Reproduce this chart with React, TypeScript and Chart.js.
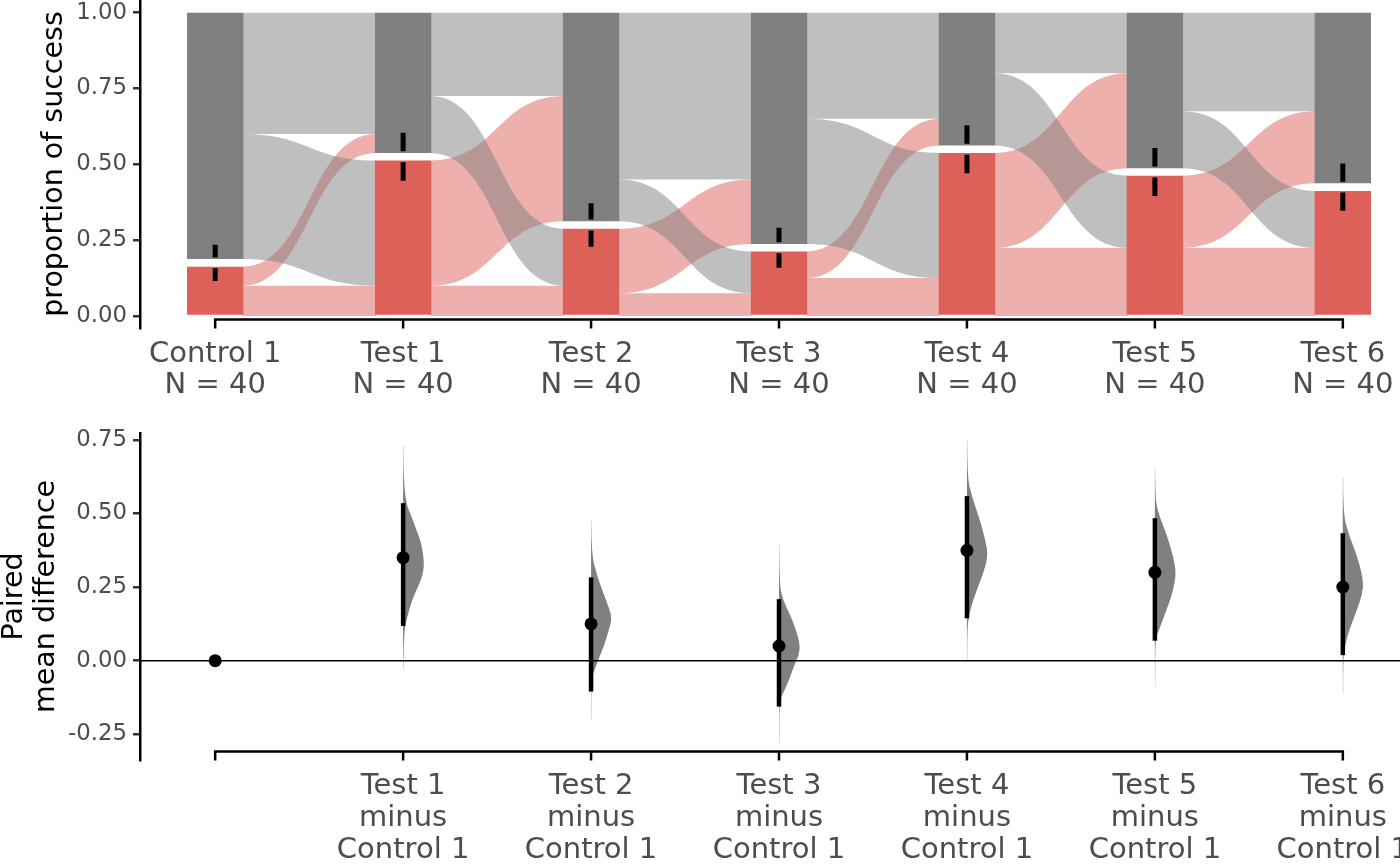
import React, { useEffect, useRef } from 'react';
import { Chart, registerables } from 'chart.js';

Chart.register(...registerables);

// ---------- data: top panel (proportions) ----------
const groups = ['Control 1', 'Test 1', 'Test 2', 'Test 3', 'Test 4', 'Test 5', 'Test 6'];
const groupN = [40, 40, 40, 40, 40, 40, 40];
const propSuccess = [0.175, 0.525, 0.3, 0.225, 0.55, 0.475, 0.425];
const errLow = [0.115, 0.446, 0.228, 0.159, 0.471, 0.396, 0.347];
const errHigh = [0.235, 0.604, 0.372, 0.291, 0.629, 0.554, 0.503];
// flows between consecutive groups (fraction of all subjects)
const flowSuccessToSuccess = [0.1, 0.1, 0.075, 0.125, 0.225, 0.225];
const flowSuccessToFailure = [0.075, 0.425, 0.225, 0.1, 0.325, 0.25];
const flowFailureToSuccess = [0.425, 0.2, 0.15, 0.425, 0.25, 0.2];
const flowFailureToFailure = [0.4, 0.275, 0.55, 0.35, 0.2, 0.325];
const topYTicks = [0, 0.25, 0.5, 0.75, 1];

// ---------- data: bottom panel (paired mean differences) ----------
const diffLabels = [
  [''],
  ['Test 1', 'minus', 'Control 1'],
  ['Test 2', 'minus', 'Control 1'],
  ['Test 3', 'minus', 'Control 1'],
  ['Test 4', 'minus', 'Control 1'],
  ['Test 5', 'minus', 'Control 1'],
  ['Test 6', 'minus', 'Control 1'],
];
const meanDiff = [0, 0.35, 0.125, 0.05, 0.375, 0.3, 0.25];
const ciLow = [null, 0.118, -0.105, -0.156, 0.144, 0.068, 0.019];
const ciHigh = [null, 0.535, 0.283, 0.209, 0.559, 0.484, 0.433];
const bottomYTicks = [-0.25, 0, 0.25, 0.5, 0.75];

// bootstrap density outlines (value, relative density)
const violinT1Values = [0.733, 0.637, 0.535, 0.49, 0.444, 0.399, 0.336, 0.297, 0.263, 0.217, 0.161, 0.104, -0.03];
const violinT1Density = [0, 0.01, 0.13, 0.4, 0.63, 0.87, 1, 0.95, 0.79, 0.48, 0.24, 0.05, 0];
const violinT2Values = [0.478, 0.365, 0.285, 0.229, 0.183, 0.144, 0.093, 0.048, 0.002, -0.043, -0.076, -0.2];
const violinT2Density = [0, 0.01, 0.3, 0.59, 0.83, 1, 0.8, 0.6, 0.34, 0.1, 0.01, 0];
const violinT3Values = [0.393, 0.263, 0.206, 0.161, 0.115, 0.082, 0.048, 0.014, -0.02, -0.066, -0.111, -0.139, -0.281];
const violinT3Density = [0, 0.01, 0.19, 0.5, 0.75, 0.9, 1, 0.92, 0.7, 0.48, 0.19, 0.01, 0];
const violinT4Values = [0.75, 0.625, 0.557, 0.501, 0.444, 0.399, 0.359, 0.308, 0.263, 0.217, 0.161, 0.104, 0.002];
const violinT4Density = [0, 0.01, 0.24, 0.51, 0.75, 0.9, 1, 0.83, 0.59, 0.35, 0.11, 0.01, 0];
const violinT5Values = [0.653, 0.546, 0.489, 0.433, 0.376, 0.331, 0.291, 0.24, 0.195, 0.149, 0.104, 0.07, -0.088];
const violinT5Density = [0, 0.01, 0.22, 0.54, 0.78, 0.94, 1, 0.87, 0.67, 0.43, 0.19, 0.01, 0];
const violinT6Values = [0.62, 0.495, 0.421, 0.365, 0.308, 0.251, 0.195, 0.138, 0.082, 0.014, -0.111];
const violinT6Density = [0, 0.01, 0.32, 0.63, 0.87, 1, 0.79, 0.48, 0.2, 0.01, 0];
const violinValues = [null, violinT1Values, violinT2Values, violinT3Values, violinT4Values, violinT5Values, violinT6Values];
const violinDensity = [null, violinT1Density, violinT2Density, violinT3Density, violinT4Density, violinT5Density, violinT6Density];

// ---------- styles ----------
const FONT = 'DejaVu Sans';
const RED = 'rgb(221,97,89)';
const GREY = 'rgb(128,128,128)';
const RED_FLOW = 'rgba(221,97,89,0.5)';
const GREY_FLOW = 'rgba(128,128,128,0.5)';
const BAR_HALF = 0.15;
const BAR_GAP = 0.0125;
const ERR_GAP = 0.018;
const VIOLIN_W = 0.112;
const TICK_COLOR = '#4D4D4D';

function drawBand(ctx: CanvasRenderingContext2D, xa: number, xb: number, l: number[], r: number[], y: any) {
  const yl0 = y.getPixelForValue(l[0]);
  const yl1 = y.getPixelForValue(l[1]);
  const yr0 = y.getPixelForValue(r[0]);
  const yr1 = y.getPixelForValue(r[1]);
  const xm = (xa + xb) / 2;
  ctx.beginPath();
  ctx.moveTo(xa, yl1);
  ctx.bezierCurveTo(xm, yl1, xm, yr1, xb, yr1);
  ctx.lineTo(xb, yr0);
  ctx.bezierCurveTo(xm, yr0, xm, yl0, xa, yl0);
  ctx.closePath();
  ctx.fill();
}

function drawCustomXAxis(chart: any) {
  const { ctx, chartArea, scales } = chart;
  const x = scales.x;
  const yLine = chartArea.bottom - 8.5;
  ctx.save();
  ctx.strokeStyle = '#000';
  ctx.lineWidth = 2.5;
  ctx.beginPath();
  ctx.moveTo(x.getPixelForValue(0) - 1.25, yLine);
  ctx.lineTo(x.getPixelForValue(groups.length - 1) + 1.25, yLine);
  ctx.stroke();
  for (let i = 0; i < groups.length; i++) {
    const px = x.getPixelForValue(i);
    ctx.beginPath();
    ctx.moveTo(px, yLine);
    ctx.lineTo(px, chartArea.bottom + 0.5);
    ctx.stroke();
  }
  ctx.restore();
}

const topPlugin = {
  id: 'sankeyFlows',
  beforeDatasetsDraw(chart: any) {
    const { ctx, scales } = chart;
    const x = scales.x;
    const y = scales.y;
    ctx.save();
    for (let i = 0; i < groups.length - 1; i++) {
      const xa = x.getPixelForValue(i + BAR_HALF) - 1;
      const xb = x.getPixelForValue(i + 1 - BAR_HALF) + 1;
      const pL = propSuccess[i];
      const pR = propSuccess[i + 1];
      const ss = flowSuccessToSuccess[i];
      const sf = flowSuccessToFailure[i];
      const fs = flowFailureToSuccess[i];
      const ff = flowFailureToFailure[i];
      ctx.fillStyle = RED_FLOW;
      drawBand(ctx, xa, xb, [0, ss], [0, ss], y);
      drawBand(ctx, xa, xb, [ss, pL - BAR_GAP], [pR + BAR_GAP, pR + sf], y);
      ctx.fillStyle = GREY_FLOW;
      drawBand(ctx, xa, xb, [pL + BAR_GAP, pL + fs], [ss, pR - BAR_GAP], y);
      drawBand(ctx, xa, xb, [1 - ff, 1], [1 - ff, 1], y);
    }
    ctx.restore();
  },
  afterDatasetsDraw(chart: any) {
    const { ctx, scales } = chart;
    const x = scales.x;
    const y = scales.y;
    ctx.save();
    ctx.strokeStyle = '#000';
    ctx.lineWidth = 5;
    ctx.lineCap = 'butt';
    for (let i = 0; i < groups.length; i++) {
      const px = x.getPixelForValue(i);
      ctx.beginPath();
      ctx.moveTo(px, y.getPixelForValue(errLow[i]));
      ctx.lineTo(px, y.getPixelForValue(propSuccess[i] - ERR_GAP));
      ctx.moveTo(px, y.getPixelForValue(propSuccess[i] + ERR_GAP));
      ctx.lineTo(px, y.getPixelForValue(errHigh[i]));
      ctx.stroke();
    }
    ctx.restore();
    drawCustomXAxis(chart);
  },
};

const bottomPlugin = {
  id: 'estimation',
  beforeDatasetsDraw(chart: any) {
    const { ctx, scales, chartArea } = chart;
    const x = scales.x;
    const y = scales.y;
    ctx.save();
    for (let i = 1; i < groups.length; i++) {
      const vals = violinValues[i] as number[];
      const dens = violinDensity[i] as number[];
      const xc = x.getPixelForValue(i);
      ctx.strokeStyle = 'rgba(128,128,128,0.25)';
      ctx.lineWidth = 1;
      ctx.beginPath();
      ctx.moveTo(xc + 0.5, y.getPixelForValue(vals[0]));
      ctx.lineTo(xc + 0.5, y.getPixelForValue(vals[vals.length - 1]));
      ctx.stroke();
      const pts = vals.map((v, k) => [x.getPixelForValue(i + dens[k] * VIOLIN_W), y.getPixelForValue(v)]);
      ctx.fillStyle = GREY;
      ctx.beginPath();
      ctx.moveTo(xc, pts[0][1]);
      ctx.lineTo(pts[0][0], pts[0][1]);
      for (let k = 1; k < pts.length - 1; k++) {
        const mx = (pts[k][0] + pts[k + 1][0]) / 2;
        const my = (pts[k][1] + pts[k + 1][1]) / 2;
        ctx.quadraticCurveTo(pts[k][0], pts[k][1], mx, my);
      }
      ctx.lineTo(pts[pts.length - 1][0], pts[pts.length - 1][1]);
      ctx.lineTo(xc, pts[pts.length - 1][1]);
      ctx.closePath();
      ctx.fill();
    }
    // zero reference line
    const y0 = y.getPixelForValue(0);
    ctx.strokeStyle = '#000';
    ctx.lineWidth = 1.5;
    ctx.beginPath();
    ctx.moveTo(chartArea.left, y0);
    ctx.lineTo(chartArea.right, y0);
    ctx.stroke();
    // confidence intervals
    ctx.lineWidth = 4.5;
    ctx.lineCap = 'butt';
    for (let i = 0; i < groups.length; i++) {
      const lo = ciLow[i];
      const hi = ciHigh[i];
      if (lo === null || hi === null) continue;
      const px = x.getPixelForValue(i);
      ctx.beginPath();
      ctx.moveTo(px, y.getPixelForValue(lo));
      ctx.lineTo(px, y.getPixelForValue(hi));
      ctx.stroke();
    }
    ctx.restore();
    drawCustomXAxis(chart);
  },
};

function yAxisCommon(width: number) {
  return {
    bounds: 'data' as const,
    afterFit: (s: any) => {
      s.width = width;
    },
    grid: { display: true, drawOnChartArea: false, drawTicks: true, tickLength: 7, lineWidth: 2.5, color: '#333' },
    border: { display: true, color: '#000', width: 2.5 },
  };
}

export default function App() {
  const topRef = useRef<HTMLCanvasElement>(null);
  const botRef = useRef<HTMLCanvasElement>(null);

  useEffect(() => {
    const topChart = new Chart(topRef.current as HTMLCanvasElement, {
      type: 'bar',
      data: {
        datasets: [
          {
            label: 'success',
            data: groups.map((_, i) => ({ x: i, y: [0, propSuccess[i] - BAR_GAP] })) as any,
            backgroundColor: RED,
            borderWidth: 0,
            grouped: false,
            categoryPercentage: 1,
            barPercentage: BAR_HALF * 2,
          },
          {
            label: 'failure',
            data: groups.map((_, i) => ({ x: i, y: [propSuccess[i] + BAR_GAP, 1] })) as any,
            backgroundColor: GREY,
            borderWidth: 0,
            grouped: false,
            categoryPercentage: 1,
            barPercentage: BAR_HALF * 2,
          },
        ],
      },
      options: {
        responsive: false,
        animation: false,
        devicePixelRatio: 1,
        layout: { padding: { top: 30, left: 0, right: 10, bottom: 0 } },
        plugins: { legend: { display: false }, tooltip: { enabled: false } },
        scales: {
          x: {
            type: 'linear',
            min: -0.4,
            max: 6.4,
            offset: false,
            bounds: 'data',
            afterBuildTicks: (s: any) => {
              s.ticks = groups.map((_, i) => ({ value: i }));
            },
            afterFit: (s: any) => {
              s.height = 82;
            },
            grid: { display: false, drawTicks: false, offset: false },
            border: { display: false },
            ticks: {
              autoSkip: false,
              maxRotation: 0,
              minRotation: 0,
              padding: 10.5,
              color: TICK_COLOR,
              font: { family: FONT, size: 29, lineHeight: 1.08 },
              callback: (v: any) => [groups[v], `N = ${groupN[v]}`],
            },
          },
          y: {
            ...yAxisCommon(140),
            min: -0.0396,
            max: 1.0419,
            afterBuildTicks: (s: any) => {
              s.ticks = topYTicks.map((v) => ({ value: v }));
            },
            ticks: {
              padding: 6,
              color: TICK_COLOR,
              font: { family: FONT, size: 22.8 },
              callback: (v: any) => Number(v).toFixed(2),
            },
            title: {
              display: true,
              text: 'proportion of success',
              color: '#000',
              font: { family: FONT, size: 28.5, lineHeight: 1.1 },
              padding: { top: 39, bottom: 0 },
            },
          },
        },
      } as any,
      plugins: [topPlugin],
    });

    const botChart = new Chart(botRef.current as HTMLCanvasElement, {
      type: 'scatter',
      data: {
        datasets: [
          {
            label: 'mean difference',
            data: meanDiff.map((m, i) => ({ x: i, y: m })),
            pointRadius: 6.5,
            pointBackgroundColor: '#000',
            pointBorderWidth: 0,
            showLine: false,
          },
        ],
      },
      options: {
        responsive: false,
        animation: false,
        devicePixelRatio: 1,
        layout: { padding: { top: 33, left: 0, right: 10, bottom: 0 } },
        plugins: { legend: { display: false }, tooltip: { enabled: false } },
        scales: {
          x: {
            type: 'linear',
            min: -0.4,
            max: 6.4,
            offset: false,
            bounds: 'data',
            afterBuildTicks: (s: any) => {
              s.ticks = groups.map((_, i) => ({ value: i }));
            },
            afterFit: (s: any) => {
              s.height = 105;
            },
            grid: { display: false, drawTicks: false },
            border: { display: false },
            ticks: {
              autoSkip: false,
              maxRotation: 0,
              minRotation: 0,
              padding: 10.5,
              color: TICK_COLOR,
              font: { family: FONT, size: 29, lineHeight: 1.1 },
              callback: (v: any) => diffLabels[v],
            },
          },
          y: {
            ...yAxisCommon(140),
            min: -0.3373,
            max: 0.7734,
            afterBuildTicks: (s: any) => {
              s.ticks = bottomYTicks.map((v) => ({ value: v }));
            },
            ticks: {
              padding: 6,
              color: TICK_COLOR,
              font: { family: FONT, size: 22.8 },
              callback: (v: any) => Number(v).toFixed(2),
            },
            title: {
              display: true,
              text: ['Paired', 'mean difference'],
              color: '#000',
              font: { family: FONT, size: 28.5, lineHeight: 1.11 },
              padding: { top: -1, bottom: 0 },
            },
          },
        },
      } as any,
      plugins: [bottomPlugin],
    });

    return () => {
      topChart.destroy();
      botChart.destroy();
    };
  }, []);

  return (
    <div
      style={{
        position: 'absolute',
        left: 0,
        top: 0,
        width: 1400,
        height: 865,
        overflow: 'hidden',
        background: '#ffffff',
      }}
    >
      <canvas
        ref={topRef}
        width={1428}
        height={440}
        style={{ position: 'absolute', left: 0, top: -30, width: 1428, height: 440 }}
      />
      <canvas
        ref={botRef}
        width={1428}
        height={465}
        style={{ position: 'absolute', left: 0, top: 400, width: 1428, height: 465 }}
      />
    </div>
  );
}
